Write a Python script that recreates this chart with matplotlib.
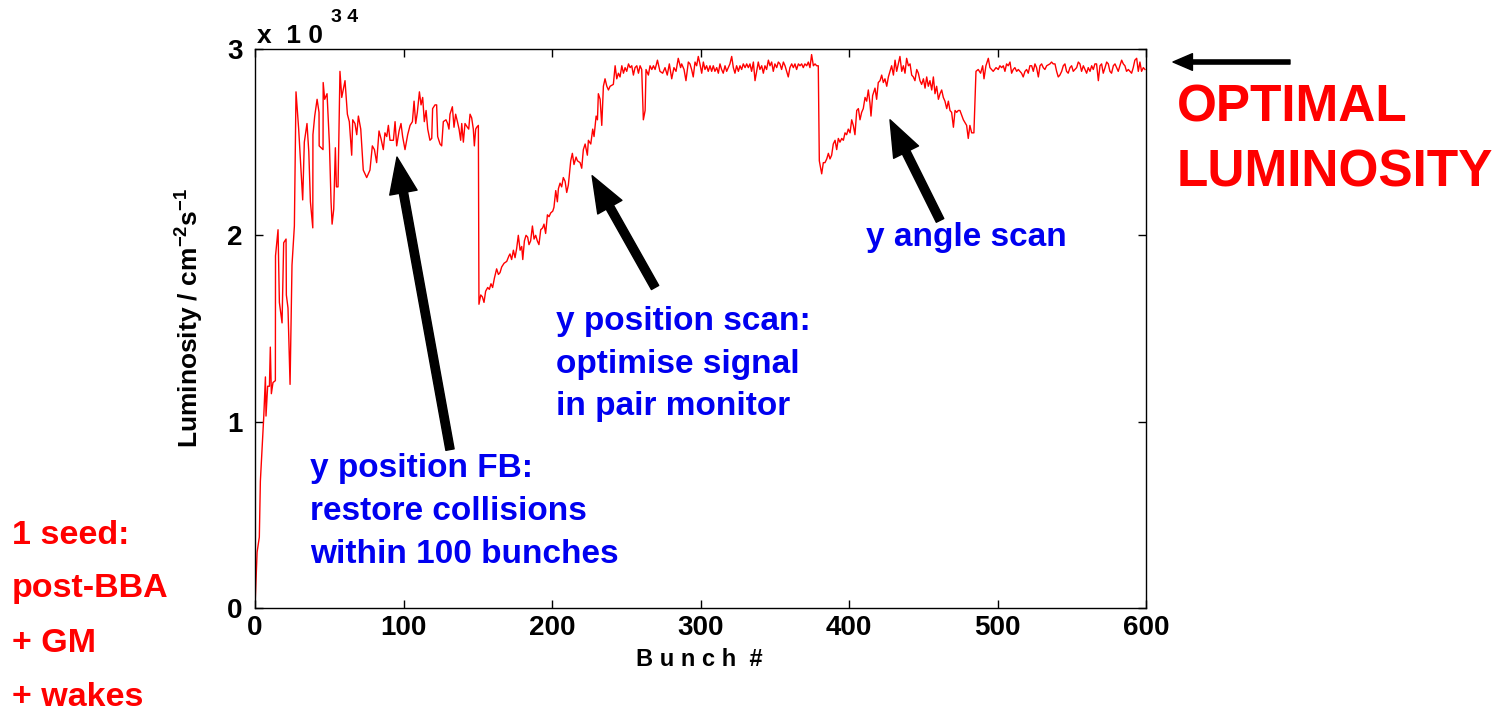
import numpy as np
import matplotlib.pyplot as plt

plt.rcParams['font.family'] = ['Liberation Sans', 'DejaVu Sans']
plt.rcParams['font.weight'] = 'bold'
plt.rcParams['mathtext.fontset'] = 'custom'
plt.rcParams['mathtext.rm'] = 'Liberation Sans:bold'
plt.rcParams['mathtext.it'] = 'Liberation Sans:bold'
plt.rcParams['mathtext.bf'] = 'Liberation Sans:bold'

# luminosity in units of 1e34 cm^-2 s^-1
# phase 1: start-up and y position feedback (bunches 0-150)
fb_bunch = [0, 1.4, 2.9, 3.6, 5.9, 7, 7.4, 8.5, 9.7, 10.3, 11, 12.1, 13.7, 13.8,
            15.5, 16.4, 18.2, 19.3, 20.9, 21.1, 22.2, 23.6, 24.9, 26.5, 27.6, 29.4,
            32.1, 33.2, 35, 36.2, 37.3, 38.9, 39, 40.2, 41.8, 43.1, 43.2, 45.8, 45.9,
            46.9, 48.5, 50.1, 51.2, 51.9, 53, 54.1, 54.8, 55.9,
            57.2, 58.4, 60.6, 62.2, 63.5, 65.1, 65.8, 67.3, 68.5, 69.6, 71.2, 72.9,
            75.2, 77.4, 79, 80.4, 81.9, 83.5, 84.8, 86.4, 87.5, 88.7, 89.8, 90.9,
            93.2, 94.3, 95.4, 97, 98.3, 99.4, 101, 102.8, 104.4, 106, 107.1, 108.2,
            109.3, 110.7, 111.8, 112.9, 114, 115.2, 116.3, 117.8, 119, 119.6, 121.2,
            122.3, 123, 124.6, 125.7, 126.8, 128.6, 129.7, 130.6, 131.3, 132.9, 134,
            135.1, 136.3, 137.4, 138.5, 139.2, 140.3, 141.4, 143, 143.9, 144.8, 145.9,
            147, 147.7, 148.6, 149.3, 150.4]
fb_lumi = [0.01, 0.30, 0.38, 0.68, 1.03, 1.24, 1.03, 1.19, 1.19, 1.40, 1.15, 1.21, 1.22, 1.89,
           2.03, 1.64, 1.53, 1.96, 1.98, 1.68, 1.61, 1.20, 1.84, 2.05, 2.77, 2.57,
           2.19, 2.50, 2.60, 2.45, 2.18, 2.04, 2.54, 2.64, 2.73, 2.66, 2.48, 2.46, 2.82,
           2.73, 2.76, 2.49, 2.18, 2.06, 2.14, 2.47, 2.26, 2.26,
           2.88, 2.74, 2.83, 2.65, 2.61, 2.43, 2.62, 2.60, 2.54, 2.64, 2.57, 2.35,
           2.31, 2.35, 2.48, 2.46, 2.39, 2.56, 2.52, 2.46, 2.55, 2.53, 2.59, 2.51,
           2.51, 2.61, 2.48, 2.56, 2.60, 2.53, 2.46, 2.54, 2.59, 2.61, 2.72, 2.60,
           2.66, 2.77, 2.70, 2.74, 2.61, 2.67, 2.57, 2.51, 2.52, 2.68, 2.70,
           2.70, 2.53, 2.49, 2.48, 2.61, 2.62, 2.60, 2.57, 2.65, 2.69, 2.58,
           2.65, 2.61, 2.57, 2.51, 2.60, 2.50, 2.60, 2.58, 2.57, 2.65, 2.63,
           2.57, 2.48, 2.57, 2.58, 2.59]

# phase 2: y position scan (bunches 151-379)
pos_bunch = [150.8, 152, 153.1, 154.2, 155.3, 156.7, 157.8, 158.9, 160, 161.2, 162.7,
             163.9, 165, 166.1, 167.7, 169.5, 171, 171.7, 172.8, 174, 175.1, 176.2,
             177.3, 178.5, 179.6, 180.3, 181.4, 182.5, 183.6, 184.5, 185.6, 186.8,
             187.9, 189, 190.1, 191.2, 192.4, 193.7, 194.6, 195.7, 196.9, 198, 199.1,
             200.5, 201.3, 202.5, 203.6, 204.3, 205.4, 206.5, 207.6, 208.8, 209.9, 211,
             212.6, 213.7, 214.8, 216.2, 217.1, 218.9,
             220, 221.1, 222.3, 223.8, 224.5, 226.1, 227.4, 228.3, 229.7, 230.6, 231.2,
             232.4, 233.5, 234.6, 235.7, 236.9, 238, 239.1, 241.3, 242.5, 243.6, 244.7,
             245.8, 247, 248.1, 249.2, 250.3, 251.5, 252.6, 253.7, 254.8, 255.9, 257.1,
             258.2, 259.3, 260.4, 261.5, 262.7, 263.3, 264.9, 266, 267.2, 268.3, 269.4, 271,
             272.7, 274.5, 276.1, 277.6, 279, 280.6, 282.1, 283.5, 285, 286.6, 287.3,
             288.9, 290.2, 291.8, 292.9, 294, 295.1, 296.3, 297.4, 298.5, 299.6, 300.8,
             301.9, 303, 304.1, 305.2, 306.4, 307.5, 308.6, 309.7, 310.9, 312, 313.1,
             314.2, 315.3, 316.5, 317.6, 318.7, 319.8, 321, 322.1, 323.2, 324.3, 325.5,
             326.6, 327.7, 328.8, 330, 331.1, 332.2, 333.3, 334.4, 335.6, 336.7, 337.8,
             338.9, 340, 341.2, 342.3, 343.4, 344.5, 345.7, 346.8, 347.9, 349, 350.1,
             351.3, 352.4, 353.5, 354.6, 355.8, 356.9, 358, 359.1, 360.2, 361.4, 362.5,
             363.6, 364.7, 365.9, 367, 368.1, 369.2, 370.3, 371.5, 372.6, 373.7, 374.8,
             376, 377.1, 378.2, 379.3]
pos_lumi = [1.63, 1.68, 1.67, 1.64, 1.70, 1.72, 1.71, 1.74, 1.72, 1.77, 1.82,
            1.79, 1.80, 1.83, 1.85, 1.86, 1.89, 1.90, 1.87, 1.92, 1.88, 1.93,
            2.00, 1.92, 1.94, 1.87, 1.97, 2.00, 1.99, 1.95, 1.97, 2.05,
            1.98, 2.00, 1.97, 1.95, 2.03, 2.04, 2.06, 2.01, 2.11, 2.10, 2.12,
            2.13, 2.15, 2.24, 2.18, 2.25, 2.28, 2.26, 2.31, 2.29, 2.23, 2.27,
            2.40, 2.44, 2.38, 2.42, 2.40, 2.39,
            2.36, 2.46, 2.49, 2.43, 2.51, 2.49, 2.57, 2.53, 2.64, 2.62, 2.76,
            2.73, 2.59, 2.80, 2.84, 2.80, 2.78, 2.80, 2.81, 2.91, 2.84, 2.87,
            2.85, 2.91, 2.87, 2.90, 2.88, 2.92, 2.90, 2.91, 2.86, 2.90, 2.91,
            2.87, 2.91, 2.89, 2.62, 2.67, 2.89, 2.86, 2.91, 2.89, 2.91, 2.89, 2.94,
            2.88, 2.87, 2.90, 2.86, 2.92, 2.84, 2.90, 2.88, 2.95, 2.90, 2.92,
            2.89, 2.83, 2.93, 2.92, 2.89, 2.85, 2.93, 2.91, 2.96, 2.92, 2.87,
            2.93, 2.89, 2.91, 2.88, 2.91, 2.88, 2.91, 2.88, 2.90, 2.87, 2.92,
            2.89, 2.87, 2.91, 2.88, 2.90, 2.92, 2.96, 2.90, 2.87, 2.91, 2.88,
            2.91, 2.89, 2.92, 2.90, 2.92, 2.90, 2.92, 2.88, 2.93, 2.83, 2.88,
            2.93, 2.89, 2.91, 2.87, 2.91, 2.89, 2.94, 2.91, 2.93, 2.88, 2.92,
            2.90, 2.93, 2.92, 2.89, 2.93, 2.91, 2.88, 2.85, 2.90, 2.92, 2.90,
            2.92, 2.89, 2.92, 2.91, 2.92, 2.90, 2.92, 2.91, 2.93, 2.90, 2.97,
            2.91, 2.92, 2.91, 2.91]

# phase 3: y angle scan and after (bunches 380-600)
ang_bunch = [380, 381.6, 382.7, 383.8, 385, 386.1, 387.2, 388.3, 389.4, 390.6, 391.7,
             392.8, 393.9, 395.1, 396.2, 397.3, 398.4, 399.5, 400.7, 401.8, 402.9, 404,
             405.2, 406.3, 407.4, 408.5, 409.6, 410.8, 411.9, 413, 414.1, 414.8, 415.9,
             417.5, 418.6, 419.7, 420.9, 422, 423.1, 424.2, 425.4, 426.5, 427.6, 428.7,
             429.9, 431, 432.1, 433.2, 434.3, 435.5, 436.6, 437.7, 438.8, 440, 441.1,
             442.2, 443.3, 444.4, 445.6, 446.7, 447.8, 448.9, 450.1, 451.2, 452.3, 453.4,
             454.5, 455.7, 456.8, 457.9, 459, 460.2, 461.3, 462.4, 463.5, 464.6, 465.8,
             466.9, 468, 469.1, 470.3, 471.4, 472.5, 473.6,
             474.7, 477, 479.2, 480.3, 481.4, 482.6, 484.1, 485.5, 487, 488.6, 490,
             490.9, 492.2, 493.8, 494.9, 496, 497.1, 499, 500.5, 501.6, 502.8, 503.9,
             505, 506.1, 507.2, 508.4, 509.5, 510.6, 511.7, 512.9, 514, 516.2, 517.3,
             518.5, 519.6, 520.7, 521.8, 523, 524.1, 525.2, 526.3, 527.5, 528.6, 529.7,
             530.8, 531.9, 533.1, 535.3, 536.4, 537.5, 538.7, 539.8, 540.9, 542, 543.2,
             544.3, 545.4, 546.5, 547.6, 548.8, 549.9, 551, 552.1, 553.3, 554.4, 555.5,
             556.6, 557.8, 558.9, 560, 561.1, 562.3, 563.4, 564.5, 565.6, 566.7, 567.9,
             569, 570.1, 571.2, 572.4, 573.5, 574.6, 575.7, 576.8, 578, 579.1, 580.2,
             581.3, 582.4, 583.6, 584.7, 585.8, 586.9, 588.1, 589.2, 590.3, 591.4, 592.5,
             593.7, 594.8, 595.9, 597, 598.2, 599.3]
ang_lumi = [2.40, 2.33, 2.39, 2.39, 2.41, 2.44, 2.41, 2.43, 2.49, 2.51, 2.46,
            2.52, 2.50, 2.52, 2.51, 2.55, 2.54, 2.57, 2.55, 2.62, 2.59, 2.54,
            2.67, 2.68, 2.62, 2.66, 2.68, 2.74, 2.72, 2.78, 2.71, 2.64, 2.75,
            2.79, 2.73, 2.82, 2.83, 2.86, 2.82, 2.84, 2.80, 2.85, 2.88, 2.91,
            2.86, 2.94, 2.88, 2.92, 2.96, 2.88, 2.91, 2.87, 2.95, 2.91, 2.92,
            2.86, 2.85, 2.83, 2.89, 2.87, 2.83, 2.81, 2.84, 2.79, 2.85, 2.80,
            2.83, 2.78, 2.85, 2.76, 2.80, 2.73, 2.76, 2.78, 2.74, 2.72, 2.68,
            2.72, 2.67, 2.66, 2.58, 2.67, 2.66, 2.67,
            2.67, 2.62, 2.59, 2.52, 2.59, 2.55, 2.55, 2.88, 2.89, 2.87, 2.91,
            2.84, 2.91, 2.95, 2.90, 2.89, 2.88, 2.90, 2.89, 2.91, 2.90, 2.91,
            2.88, 2.92, 2.91, 2.93, 2.87, 2.89, 2.90, 2.88, 2.89, 2.87, 2.85,
            2.88, 2.89, 2.87, 2.91, 2.91, 2.88, 2.92, 2.90, 2.85, 2.91, 2.92,
            2.90, 2.89, 2.91, 2.92, 2.93, 2.92, 2.92, 2.88, 2.85, 2.86, 2.88,
            2.91, 2.92, 2.88, 2.87, 2.90, 2.91, 2.88, 2.89, 2.90, 2.93, 2.92,
            2.88, 2.91, 2.89, 2.87, 2.90, 2.88, 2.91, 2.89, 2.92, 2.92, 2.83,
            2.91, 2.92, 2.87, 2.90, 2.93, 2.92, 2.88, 2.87, 2.91, 2.92, 2.90,
            2.88, 2.91, 2.94, 2.92, 2.91, 2.88, 2.89, 2.88, 2.87, 2.90, 2.94,
            2.95, 2.88, 2.93, 2.88, 2.90, 2.89]

x_ticks = [0, 100, 200, 300, 400, 500, 600]
y_ticks = [0, 1, 2, 3]

blue = '#0000F0'
red = '#FF0000'

fig = plt.figure(figsize=(15.01, 7.10), dpi=100)
ax = fig.add_axes([0.1699, 0.1437, 0.5936, 0.7873])

x = np.concatenate([fb_bunch, pos_bunch, ang_bunch])
y = np.concatenate([fb_lumi, pos_lumi, ang_lumi])
ax.plot(x, y, color=red, lw=1.0)

ax.set_xlim(0, 600)
ax.set_ylim(0, 3)
ax.set_xticks(x_ticks)
ax.set_yticks(y_ticks)
ax.tick_params(direction='in', length=6, width=1, top=True, right=True,
               labelsize=20, pad=5)
ax.tick_params(axis='y', pad=9)
for lab in ax.get_xticklabels() + ax.get_yticklabels():
    lab.set_fontweight('bold')
for s in ax.spines.values():
    s.set_linewidth(1)

fig.text(699 / 1501, 1 - 660 / 710, 'B u n c h  #', ha='center', va='center',
         fontsize=17, fontweight='bold')
fig.text(190 / 1501, 1 - 318 / 710, r'Luminosity / cm$^{-2}$s$^{-1}$',
         rotation=90, ha='center', va='center', fontsize=19, fontweight='bold')
fig.text(257 / 1501, 1 - 36 / 710, 'x  1 0', ha='left', va='center',
         fontsize=19, fontweight='bold')
fig.text(331 / 1501, 1 - 18 / 710, '3 4', ha='left', va='center',
         fontsize=14, fontweight='bold')

# blue annotations
fb_text = ['y position FB:', 'restore collisions', 'within 100 bunches']
scan_text = ['y position scan:', 'optimise signal', 'in pair monitor']
for i, t in enumerate(fb_text):
    ax.text(37, 0.751 - i * 0.2308, t, color=blue, fontsize=24,
            fontweight='bold', va='center', ha='left')
for i, t in enumerate(scan_text):
    ax.text(202.7, 1.535 - i * 0.2281, t, color=blue, fontsize=24,
            fontweight='bold', va='center', ha='left')
ax.text(411.4, 1.986, 'y angle scan', color=blue, fontsize=24,
        fontweight='bold', va='center', ha='left')

arrow = dict(width=6, headwidth=20, headlength=26, facecolor='black',
             edgecolor='black', shrink=0)
ax.annotate('', xy=(95.6, 2.42), xytext=(131.3, 0.85), arrowprops=arrow)
ax.annotate('', xy=(227, 2.32), xytext=(269.4, 1.72), arrowprops=arrow)
ax.annotate('', xy=(427.6, 2.62), xytext=(461.3, 2.08), arrowprops=arrow)
ax.annotate('', xy=(1173 / 1501, 1 - 62 / 710), xytext=(1290 / 1501, 1 - 62 / 710),
            xycoords='figure fraction', textcoords='figure fraction',
            arrowprops=dict(width=3, headwidth=12, headlength=14,
                            facecolor='black', edgecolor='black', shrink=0))

fig.text(1177 / 1501, 1 - 108 / 710, 'OPTIMAL', color=red, fontsize=37,
         fontweight='bold', ha='left', va='center')
fig.text(1177 / 1501, 1 - 173 / 710, 'LUMINOSITY', color=red, fontsize=37,
         fontweight='bold', ha='left', va='center')

seed_text = ['1 seed:', 'post-BBA', '+ GM', '+ wakes']
for i, t in enumerate(seed_text):
    fig.text(12 / 1501, 1 - (535 + i * 54) / 710, t, color=red, fontsize=24.5,
             fontweight='bold', ha='left', va='center')

fig.savefig('out.png', dpi=100)
